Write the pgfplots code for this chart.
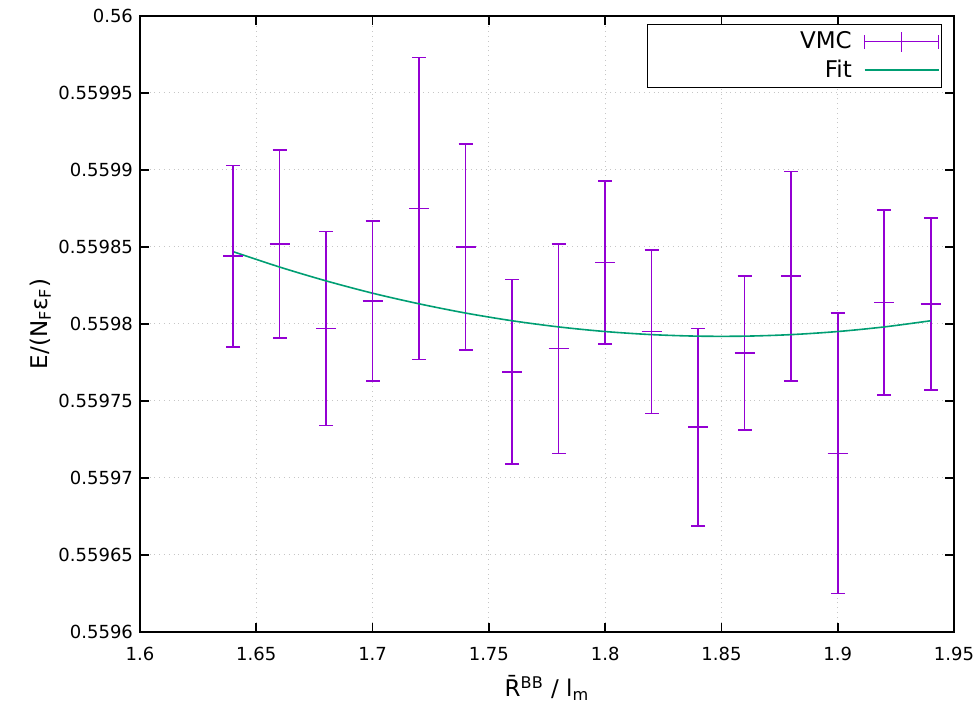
\documentclass[border=0pt]{standalone}
\usepackage{fontspec}
\setmainfont{DejaVu Sans}
\usepackage{pgfplots}
\pgfplotsset{compat=1.18}
\usepackage{pgfplotstable}
\definecolor{vmc}{HTML}{9400D3}
\definecolor{fitc}{HTML}{009E73}

% x  E  dE
\pgfplotstableread{
x     y         ey
1.64  0.559844  0.000059
1.66  0.559852  0.000061
1.68  0.559797  0.000063
1.70  0.559815  0.000052
1.72  0.559875  0.000098
1.74  0.559850  0.000067
1.76  0.559769  0.000060
1.78  0.559784  0.000068
1.80  0.559840  0.000053
1.82  0.559795  0.000053
1.84  0.559733  0.000064
1.86  0.559781  0.000050
1.88  0.559831  0.000068
1.90  0.559716  0.000091
1.92  0.559814  0.000060
1.94  0.559813  0.000056
}\vmcdata

\pgfplotstableread{
x     y
1.64  0.5598470
1.66  0.5598370
1.68  0.5598280
1.70  0.5598200
1.72  0.5598131
1.74  0.5598071
1.76  0.5598021
1.78  0.5597981
1.80  0.5597951
1.82  0.5597931
1.84  0.5597921
1.86  0.5597921
1.88  0.5597931
1.90  0.5597951
1.92  0.5597981
1.94  0.5598021
}\fitdata

\begin{document}
\begin{tikzpicture}
\begin{axis}[
  scale only axis, width=407pt, height=308pt,
  xmin=1.6, xmax=1.95, ymin=0.5596, ymax=0.56,
  xtick={1.6,1.65,1.7,1.75,1.8,1.85,1.9,1.95},
  ytick={0.5596,0.55965,0.5597,0.55975,0.5598,0.55985,0.5599,0.55995,0.56},
  scaled x ticks=false, scaled y ticks=false,
  xticklabel style={/pgf/number format/fixed, /pgf/number format/precision=2, yshift=-4pt},
  yticklabel style={/pgf/number format/fixed, /pgf/number format/precision=5},
  /pgf/number format/assume math mode=true,
  tick label style={font=\fontsize{9}{11}\selectfont},
  label style={font=\fontsize{11.5}{13.5}\selectfont},
  grid=major, grid style={gray!45, dotted, line width=0.5pt},
  axis line style={line width=0.8pt},
  major tick style={black, line width=0.8pt}, major tick length=4.5pt,
  xlabel={R̄\textsuperscript{BB} / l\textsubscript{m}},
  ylabel={E/(N\textsubscript{F}ε\textsubscript{F})},
  xlabel style={yshift=-0.5pt},
  ylabel style={yshift=-3pt},
  legend style={at={(rel axis cs:1,1)}, xshift=-6pt, yshift=-4pt, anchor=north east,
    draw=black, line width=0.6pt, fill=white, font=\fontsize{11.5}{13.5}\selectfont,
    row sep=0pt, column sep=4pt, inner xsep=1pt, inner ysep=1.5pt},
  legend cell align=right, legend plot pos=right,
]
\addplot[vmc, line width=0.8pt, mark=+, mark size=5pt, only marks, forget plot,
  error bars/.cd, y dir=both, y explicit,
  error mark=-, error mark options={vmc, mark size=3.5pt, line width=0.8pt, rotate=90},
  error bar style={vmc, line width=0.8pt}]
  table[x=x, y=y, y error=ey] {\vmcdata};
\addplot[fitc, line width=0.8pt, smooth, no marks, forget plot]
  table[x=x, y=y] {\fitdata};
\addlegendimage{legend image code/.code={
  \draw[vmc, line width=0.8pt] (0pt,0pt) -- (37pt,0pt);
  \draw[vmc, line width=0.8pt] (0pt,-3.5pt) -- (0pt,3.5pt);
  \draw[vmc, line width=0.8pt] (37pt,-3.5pt) -- (37pt,3.5pt);
  \draw[vmc, line width=0.8pt] (18.5pt,-5pt) -- (18.5pt,5pt);}}
\addlegendentry{\makebox[99pt][r]{VMC}}
\addlegendimage{legend image code/.code={
  \draw[fitc, line width=0.8pt] (0pt,0pt) -- (37pt,0pt);}}
\addlegendentry{Fit}
\end{axis}
\pgfresetboundingbox
\path ([xshift=-70pt,yshift=-36pt]current axis.south west) rectangle ([xshift=12.5pt,yshift=8pt]current axis.north east);
\end{tikzpicture}
\end{document}
